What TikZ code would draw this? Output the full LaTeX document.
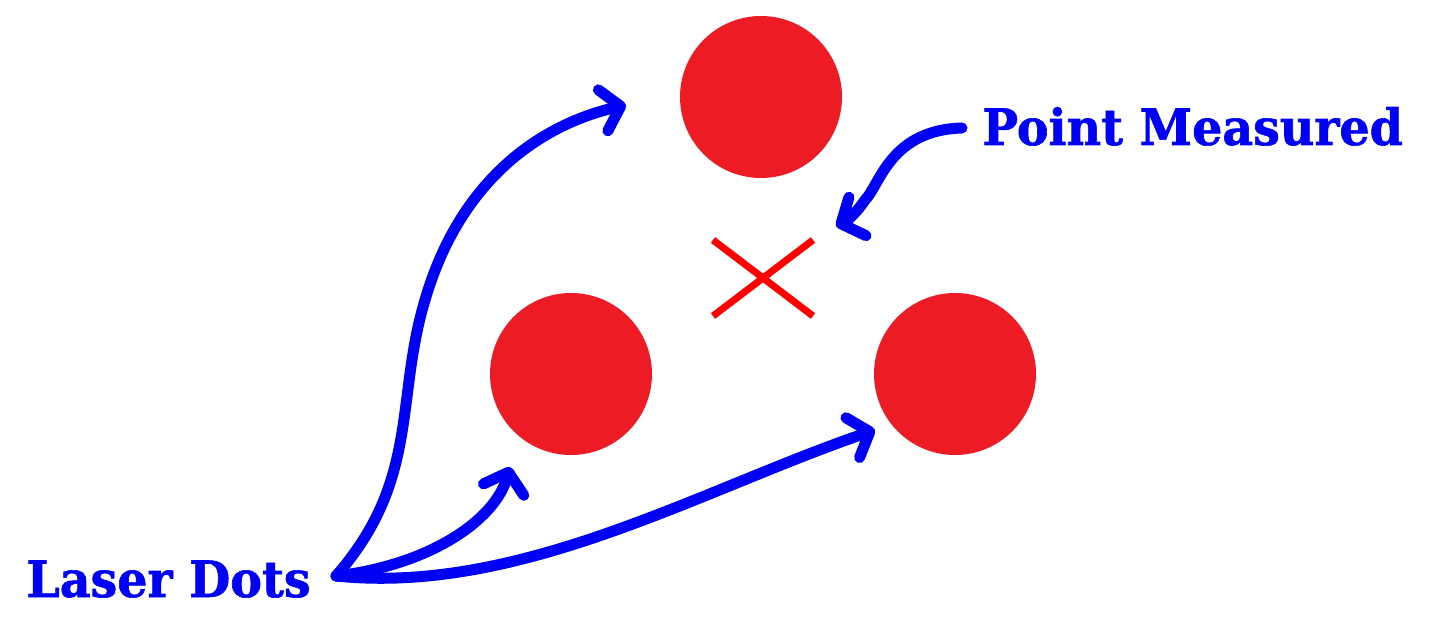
\documentclass[tikz,border=0pt]{standalone}
\usepackage{fontspec}
\setmainfont{DejaVu Serif}[FakeStretch=0.95, FakeBold=1.2]
\usetikzlibrary{arrows.meta}
\definecolor{dotred}{RGB}{237,28,36}
\definecolor{arrblue}{RGB}{0,0,245}
\tikzset{
  dot/.style={circle, fill=dotred, draw=none, minimum size=81pt, inner sep=0pt},
  lbl/.style={text=arrblue, font=\bfseries\fontsize{25}{28}\selectfont, inner sep=0pt, anchor=base west},
  pointer/.style={draw=arrblue, line width=5.5pt, line cap=round, line join=round,
    -{Straight Barb[length=9pt, width=21pt, line cap=round, line join=round]}},
  crossline/.style={draw=red, line width=3.5pt}
}
\begin{document}
\begin{tikzpicture}[x=0.5pt, y=-0.5pt]
\useasboundingbox (0,0) rectangle (1456,640);
\node[dot] (top) at (761,97) {};
\node[dot] (left) at (571,374) {};
\node[dot] (right) at (955,374) {};
\coordinate (xa) at (713,240);
\coordinate (xb) at (813,316);
\coordinate (xc) at (713,316);
\coordinate (xd) at (813,240);
\draw[crossline] (xa) -- (xb);
\draw[crossline] (xc) -- (xd);
\node[lbl] (laser) at (26,597) {Laser Dots};
\node[lbl] (point) at (982,145) {Point Measured};
\coordinate (src) at (336,576);
\coordinate (t1) at (626,105);
\coordinate (t2) at (510,467);
\coordinate (t3) at (875,430);
\coordinate (p0) at (962,128);
\coordinate (t4) at (836,226);
\draw[pointer] (src) .. controls (420,480) and (395,400) .. (425,300)
  .. controls (460,180) and (540,125) .. (t1);
\draw[pointer] (src) .. controls (430,565) and (495,520) .. (t2);
\draw[pointer] (src) .. controls (520,595) and (700,490) .. (t3);
\draw[pointer] (p0) .. controls (890,130) and (880,185) .. (865,200)
  .. controls (855,215) and (845,222) .. (t4);
\end{tikzpicture}
\end{document}
